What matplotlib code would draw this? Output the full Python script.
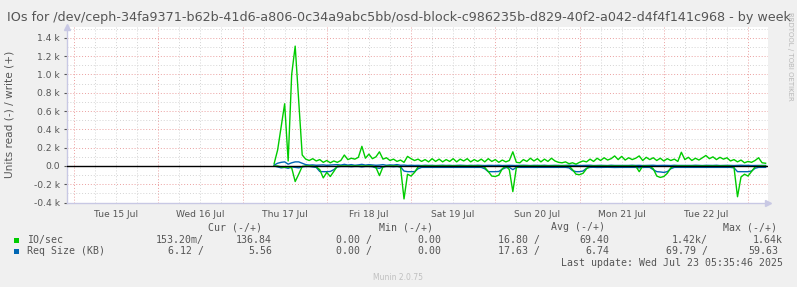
"""
Munin weekly IOs graph for a ceph osd-block device
"""

import matplotlib
matplotlib.use('Agg')
import matplotlib.pyplot as plt

TITLE = ('IOs for /dev/ceph-34fa9371-b62b-41d6-a806-0c34a9abc5bb/'
         'osd-block-c986235b-d829-40f2-a042-d4f4f141c968 - by week')

# hours since Tue 15 Jul 00:00, one sample per hour (Thu 17 09:00 .. Wed 23 05:00)
hours = list(range(57, 198))

# IO/sec, write (+)
io_write = [25, 175, 430, 680, 55, 1000, 1310, 720, 120, 75,
            60, 80, 55, 70, 40, 60, 35, 55, 40, 60,
            120, 70, 85, 75, 95, 215, 85, 130, 80, 100,
            155, 75, 90, 60, 75, 50, 65, 40, 105, 80,
            60, 75, 50, 70, 45, 80, 50, 75, 45, 70,
            50, 80, 45, 75, 55, 80, 45, 70, 50, 75,
            45, 80, 50, 70, 40, 65, 45, 60, 155, 40,
            35, 70, 50, 85, 55, 80, 45, 75, 50, 85,
            55, 40, 35, 45, 25, 35, 20, 40, 55, 45,
            75, 50, 85, 60, 90, 65, 80, 110, 70, 105,
            65, 90, 70, 85, 110, 60, 95, 70, 90, 60,
            85, 55, 80, 60, 75, 50, 150, 70, 95, 60,
            85, 65, 90, 115, 80, 100, 70, 95, 75, 90,
            55, 70, 45, 65, 35, 50, 40, 60, 90, 35,
            30]

# IO/sec, read (-)
io_read = [0, 0, -10, -15, -10, -20, -170, -90, -5, 0,
           0, 0, -10, -40, -130, -70, -115, -60, 0, 0,
           0, 0, 0, 0, 0, 0, 0, 0, 0, -15,
           -105, -10, 0, 0, 0, 0, -10, -360, -90, -110,
           -70, -10, 0, 0, 0, 0, 0, 0, 0, 0,
           0, 0, 0, 0, 0, 0, 0, 0, 0, 0,
           -15, -60, -110, -115, -100, -30, 0, -40, -280, -20,
           0, 0, 0, 0, 0, 0, 0, 0, 0, 0,
           0, 0, 0, 0, 0, -40, -90, -95, -80, -30,
           0, 0, 0, 0, 0, 0, 0, 0, 0, 0,
           0, 0, 0, 0, -62, 0, 0, 0, -30, -110,
           -125, -115, -80, -20, 0, 0, 0, 0, 0, 0,
           0, 0, 0, 0, 0, 0, 0, 0, 0, 0,
           0, -15, -336, -120, -90, -110, -60, -10, 0, 0,
           0]

# Req Size (KB), write (+)
req_write = [10, 30, 40, 45, 20, 35, 45, 45, 30, 15,
             10, 12, 8, 10, 12, 8, 10, 12, 15, 10,
             18, 10, 15, 8, 12, 18, 10, 15, 12, 8,
             10, 15, 8, 12, 10, 15, 8, 10, 6, 8,
             6, 7, 5, 8, 6, 7, 5, 6, 8, 6,
             7, 5, 6, 8, 6, 5, 7, 6, 8, 6,
             5, 7, 6, 6, 8, 5, 6, 7, 6, 5,
             6, 8, 6, 5, 7, 6, 6, 8, 5, 6,
             7, 6, 5, 6, 8, 6, 7, 5, 6, 6,
             8, 5, 6, 7, 6, 5, 8, 6, 6, 7,
             5, 6, 8, 6, 7, 5, 6, 6, 8, 5,
             6, 7, 6, 5, 8, 6, 6, 7, 5, 6,
             8, 6, 5, 7, 6, 6, 8, 5, 6, 7,
             6, 5, 6, 8, 6, 7, 5, 6, 6, 6,
             6]

# Req Size (KB), read (-)
req_read = [0, -10, -20, -15, -25, -10, -15, -20, -10, -5,
            -5, -10, -15, -60, -62, -62, -60, -40, -10, -5,
            -5, -5, -8, -5, -5, -10, -5, -5, -8, -20,
            -25, -10, -5, -5, -8, -5, -10, -55, -62, -62,
            -62, -30, -15, -15, -14, -16, -15, -15, -14, -15,
            -16, -15, -15, -14, -15, -16, -15, -15, -14, -15,
            -30, -62, -62, -62, -60, -35, -18, -15, -40, -15,
            -15, -14, -16, -15, -15, -14, -15, -16, -15, -15,
            -15, -15, -15, -15, -20, -50, -62, -62, -55, -25,
            -15, -14, -16, -15, -15, -14, -15, -16, -15, -15,
            -15, -15, -15, -15, -20, -15, -15, -15, -40, -62,
            -65, -70, -62, -30, -15, -15, -14, -16, -15, -15,
            -15, -14, -16, -15, -15, -14, -15, -16, -15, -15,
            -15, -20, -62, -62, -62, -62, -55, -25, -15, -15,
            -15]

day_labels = ['Tue 15 Jul', 'Wed 16 Jul', 'Thu 17 Jul', 'Fri 18 Jul',
              'Sat 19 Jul', 'Sun 20 Jul', 'Mon 21 Jul', 'Tue 22 Jul']
ytick_vals = [-400, -200, 0, 200, 400, 600, 800, 1000, 1200, 1400]
ytick_labels = ['-0.4 k', '-0.2 k', '0.0', '0.2 k', '0.4 k', '0.6 k',
                '0.8 k', '1.0 k', '1.2 k', '1.4 k']

legend_names = ['IO/sec', 'Req Size (KB)']
legend_cur = [('153.20m/', '136.84'), ('6.12 /', '5.56')]
legend_min = [('0.00 /', '0.00'), ('0.00 /', '0.00')]
legend_avg = [('16.80 /', '69.40'), ('17.63 /', '6.74')]
legend_max = [('1.42k/', '1.64k'), ('69.79 /', '59.63')]

GREEN = '#00CC00'
BLUE = '#0066B3'
TXT = '#555555'
W, H = 797, 287

fig = plt.figure(figsize=(W / 100, H / 100), dpi=100, facecolor='#F0F0F0')
# plot area in pixels: x 67..768, y 27..203
ax = fig.add_axes([67 / W, (H - 202.6) / H, (767.7 - 67) / W, (202.6 - 26.9) / H])
ax.set_facecolor('white')
ax.set_xlim(-2.0, 197.6)
ax.set_ylim(-400, 1520)

# grid: gray minor, red major
for h in range(0, 198, 6):
    if h % 24:
        ax.axvline(h, color='#D4D4D4', lw=0.7, ls=(0, (1, 2)), zorder=0)
for h in range(0, 198, 24):
    ax.axvline(h, color='#EBA0A0', lw=0.7, ls=(0, (1, 2)), zorder=0)
for v in range(-300, 1600, 200):
    ax.axhline(v, color='#D4D4D4', lw=0.7, ls=(0, (1, 2)), zorder=0)
for v in ytick_vals:
    ax.axhline(v, color='#EBA0A0', lw=0.7, ls=(0, (1, 2)), zorder=0)

ax.plot(hours, req_write, color=BLUE, lw=1.0, zorder=2)
ax.plot(hours, req_read, color=BLUE, lw=1.0, zorder=2)
ax.plot(hours, io_write, color=GREEN, lw=1.0, zorder=3)
ax.plot(hours, io_read, color=GREEN, lw=1.0, zorder=3)
ax.axhline(0, color='black', lw=1.0, zorder=5)

for s in ['top', 'right']:
    ax.spines[s].set_visible(False)
for s in ['left', 'bottom']:
    ax.spines[s].set_color('#C8C8E4')
    ax.spines[s].set_linewidth(1.0)
ax.plot(1.0, 0, '>', color='#C8C8E4', ms=4, transform=ax.transAxes, clip_on=False)
ax.plot(0, 1.0, '^', color='#C8C8E4', ms=4, transform=ax.transAxes, clip_on=False)

ax.set_yticks(ytick_vals)
ax.set_yticklabels(ytick_labels)
ax.set_xticks([12 + 24 * i for i in range(len(day_labels))])
ax.set_xticklabels(day_labels)
ax.tick_params(axis='x', length=0, pad=5, labelsize=6.6, colors=TXT)
ax.tick_params(axis='y', length=2, pad=3, labelsize=6.6, colors=TXT)

fig.text(10 / W, 1 - 114 / H, 'Units read (-) / write (+)', rotation=90,
         ha='center', va='center', fontsize=7.6, color=TXT)

fig.text(0.5, 1 - 17 / H, TITLE, ha='center', va='center', fontsize=9.15, color=TXT)
fig.text(790 / W, 1 - 12 / H, 'RRDTOOL / TOBI OETIKER', rotation=270, ha='center',
         va='top', fontsize=5.0, color='#B8B8B8')

# legend table
mono = dict(family='DejaVu Sans Mono', fontsize=7.1, color=TXT, va='center')
def px(x, y):
    return x / W, 1 - y / H

for text, xr in [('Cur (-/+)', 262), ('Min (-/+)', 433), ('Avg (-/+)', 605), ('Max (-/+)', 777)]:
    fig.text(*px(xr, 227), text, ha='right', **mono)

rows_y = [240, 251]
colors = [GREEN, BLUE]
for i, name in enumerate(legend_names):
    y = rows_y[i]
    fig.patches.append(plt.Rectangle(px(14, y + 2.5), 5 / W, 5 / H, transform=fig.transFigure,
                                     facecolor=colors[i], edgecolor='none'))
    fig.text(*px(27, y), name, ha='left', **mono)
    cells = [(legend_cur[i][0], 204), (legend_cur[i][1], 272),
             (legend_min[i][0], 372), (legend_min[i][1], 441),
             (legend_avg[i][0], 540), (legend_avg[i][1], 609),
             (legend_max[i][0], 708), (legend_max[i][1], 783 if i == 0 else 778)]
    for text, xr in cells:
        fig.text(*px(xr, y), text, ha='right', **mono)

fig.text(*px(783, 263), 'Last update: Wed Jul 23 05:35:46 2025', ha='right', **mono)
fig.text(*px(398, 277), 'Munin 2.0.75', ha='center', va='center', fontsize=5.5, color='#C0C0C0')

plt.savefig('out.png', dpi=100, facecolor=fig.get_facecolor())
